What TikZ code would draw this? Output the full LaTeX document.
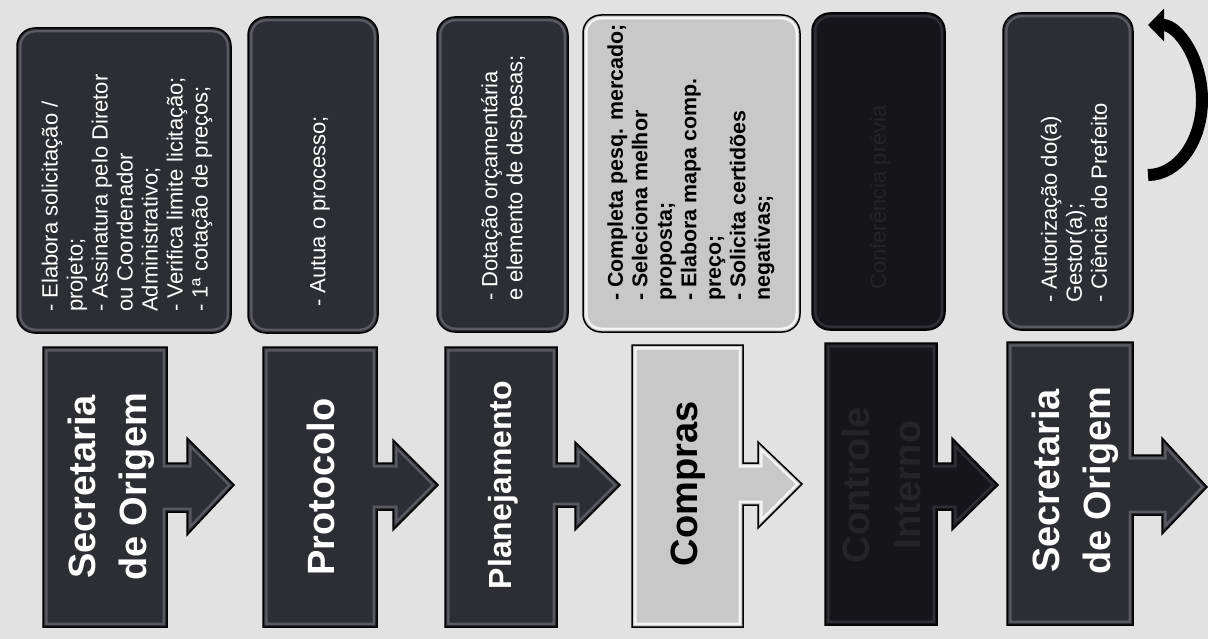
\documentclass[tikz,border=0pt]{standalone}
\usepackage{fontspec}
\setmainfont{Liberation Sans}
\usetikzlibrary{arrows.meta}
\definecolor{bgc}{RGB}{226,226,226}
\definecolor{darkc}{RGB}{44,46,52}
\definecolor{darkerc}{RGB}{22,22,26}
\definecolor{lightc}{RGB}{200,200,200}
\definecolor{rimc}{RGB}{88,90,96}
\definecolor{rimd}{RGB}{46,46,52}
\definecolor{rimlight}{RGB}{245,245,245}
\definecolor{ghost}{RGB}{36,36,41}
\newcommand\bev[3]{%
  \fill[#1] #3;
  \begin{scope}\clip #3; \draw[#2,line width=9pt] #3; \draw[#1,line width=4pt] #3;\end{scope}
  \draw[black,line width=1.5pt] #3;}
\tikzset{
  boxtxt/.style={rotate=90, anchor=west, text=white, align=left, inner sep=0pt,
    font=\fontsize{22}{25}\selectfont},
  bigtxt/.style={rotate=90, text=white, align=center, inner sep=0pt,
    font=\fontsize{38}{51}\selectfont\bfseries},
}
\begin{document}
\begin{tikzpicture}[x=1pt,y=-1pt]
\useasboundingbox (0,0) rectangle (1208,639);
\fill[bgc] (0,0) rectangle (1208,639);

% top boxes
\bev{darkc}{rimc}{[rounded corners=18pt] (17,28) rectangle (231,333)}
\bev{darkc}{rimc}{[rounded corners=18pt] (248,17) rectangle (378,333)}
\bev{darkc}{rimc}{[rounded corners=18pt] (437,17) rectangle (568,332)}
\bev{lightc}{rimlight}{[rounded corners=18pt] (583,15) rectangle (800,332)}
\bev{darkerc}{rimd}{[rounded corners=18pt] (812,13) rectangle (945,330)}
\bev{darkc}{rimc}{[rounded corners=18pt] (1003,13) rectangle (1133,330)}

\node[boxtxt] (t1) at (127,312) {- Elabora solicitação /\\projeto;\\- Assinatura pelo Diretor\\ou Coordenador\\Administrativo;\\- Verifica limite licitação;\\- 1ª cotação de preços;};
\node[boxtxt] (t2) at (320,307) {- Autua o processo;};
\node[boxtxt] (t3) at (504,301) {- Dotação orçamentária\\e elemento de despesas;};
\node[boxtxt, text=black, font=\fontsize{21.4}{24.5}\selectfont\bfseries] (t4) at (691,301) {- Completa pesq. mercado;\\- Seleciona melhor\\proposta;\\- Elabora mapa comp.\\preço;\\- Solicita certidões\\negativas;};
\node[boxtxt, text=ghost] (t5) at (880,290) {Conferência prévia};
\node[boxtxt] (t6) at (1074,303) {- Autorização do(a)\\Gestor(a);\\- Ciência do Prefeito};

% bottom arrow shapes
\bev{darkc}{rimc}{(43,347) -- (167,347) -- (167,463) -- (187,463) -- (187,438) -- (234,485) -- (187,535) -- (187,512) -- (167,512) -- (167,627) -- (43,627) -- cycle}
\bev{darkc}{rimc}{(263,347) -- (377,347) -- (377,463) -- (393,463) -- (393,440) -- (438,485) -- (393,530) -- (393,510) -- (377,510) -- (377,627) -- (263,627) -- cycle}
\bev{darkc}{rimc}{(445,347) -- (557,347) -- (557,463) -- (575,463) -- (575,442) -- (620,485) -- (575,530) -- (575,507) -- (557,507) -- (557,627) -- (445,627) -- cycle}
\bev{lightc}{rimlight}{(632,345) -- (743,345) -- (743,463) -- (758,463) -- (758,442) -- (802,484) -- (758,528) -- (758,505) -- (743,505) -- (743,627) -- (632,627) -- cycle}
\bev{darkerc}{rimd}{(825,343) -- (937,343) -- (937,463) -- (952,463) -- (952,438) -- (998,485) -- (952,530) -- (952,510) -- (937,510) -- (937,625) -- (825,625) -- cycle}
\bev{darkc}{rimc}{(1007,342) -- (1133,342) -- (1133,455) -- (1162,455) -- (1162,438) -- (1207,487) -- (1162,534) -- (1162,515) -- (1133,515) -- (1133,625) -- (1007,625) -- cycle}

\node[bigtxt] (s1) at (111,487) {Secretaria\\de Origem};
\node[bigtxt] (s2) at (321,487) {Protocolo};
\node[bigtxt, font=\fontsize{32}{40}\selectfont\bfseries] (s3) at (503,485) {Planejamento};
\node[bigtxt, text=black] (s4) at (688,484) {Compras};
\node[bigtxt, text=ghost] (s5) at (881,485) {Controle\\Interno};
\node[bigtxt] (s6) at (1075,481) {Secretaria\\de Origem};

% curved return arrow
\coordinate (ra) at (1148,175);
\draw[black, line width=12pt, -{Triangle[length=16pt,width=32pt]}] (ra) arc[start angle=90, end angle=-90, x radius=54, y radius=75];
\end{tikzpicture}
\end{document}
